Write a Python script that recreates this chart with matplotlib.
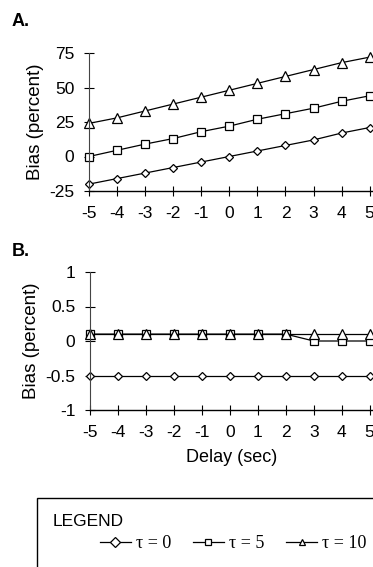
import numpy as np
import matplotlib
matplotlib.use("Agg")
import matplotlib.pyplot as plt
from matplotlib.patches import Rectangle

plt.rcParams['font.family'] = ['Liberation Sans', 'DejaVu Sans']

delay = [-5, -4, -3, -2, -1, 0, 1, 2, 3, 4, 5]
tau_labels = ["\u03c4 = 0", "\u03c4 = 5", "\u03c4 = 10"]
markers = ["D", "s", "^"]
msizes = [4.5, 6, 6.5]

# panel A: bias vs delay
bias_a_t0 = [-20, -16, -12, -8, -4, 0, 4, 8, 12, 17, 21]
bias_a_t5 = [0, 4.5, 9, 13, 18, 22, 27, 31, 35, 40, 44]
bias_a_t10 = [24, 28, 33, 38, 43, 48, 53, 58, 63, 68, 72]

# panel B: bias vs delay (small scale)
bias_b_t0 = [-0.5] * 11
bias_b_t5 = [0.1, 0.1, 0.1, 0.1, 0.1, 0.1, 0.1, 0.1, 0, 0, 0]
bias_b_t10 = [0.1] * 11

W, H = 373, 567
fig = plt.figure(figsize=(W / 100, H / 100), dpi=100)

def frac_axes(x0, y_top, y_bot):
    return fig.add_axes([x0 / W, 1 - y_bot / H, (W - x0) / W, (y_bot - y_top) / H])

def style(ax, ylim, yticks, yticklabels):
    ax.set_xlim(-5, 5.12)
    ax.set_ylim(*ylim)
    ax.set_xticks(delay)
    ax.set_xticklabels([str(d) for d in delay])
    ax.set_yticks(yticks)
    ax.set_yticklabels(yticklabels)
    for s in ["top", "right"]:
        ax.spines[s].set_visible(False)
    ax.spines["left"].set_linewidth(0.8)
    ax.spines["left"].set_color("#444444")
    ax.spines["bottom"].set_linewidth(1.0)
    ax.tick_params(direction="inout", length=7, width=0.8, pad=7, labelsize=12.5)
    ax.patch.set_alpha(0)

axA = frac_axes(89, 53, 191)
for ys, m, ms, lab in zip([bias_a_t0, bias_a_t5, bias_a_t10], markers, msizes, tau_labels):
    axA.plot(delay, ys, color="black", lw=0.9, marker=m, ms=ms,
             mfc="white", mec="black", mew=0.9, label=lab, clip_on=False)
style(axA, (-25, 75), [-25, 0, 25, 50, 75], ["-25", "0", "25", "50", "75"])
axA.set_ylabel("Bias (percent)", fontsize=13.5, labelpad=4)

axB = frac_axes(90, 272, 410)
handles = []
for ys, m, ms, lab in zip([bias_b_t0, bias_b_t5, bias_b_t10], markers, msizes, tau_labels):
    h, = axB.plot(delay, ys, color="black", lw=0.9, marker=m, ms=ms,
                  mfc="white", mec="black", mew=0.9, label=lab, clip_on=False)
    handles.append(h)
style(axB, (-1, 1), [-1, -0.5, 0, 0.5, 1], ["-1", "-0.5", "0", "0.5", "1"])
axB.set_ylabel("Bias (percent)", fontsize=13.5, labelpad=4)
axB.set_xlabel("Delay (sec)", fontsize=13, labelpad=7)

fig.text(12 / W, 1 - 22 / H, "A.", fontsize=13, fontweight="bold", va="center")
fig.text(12 / W, 1 - 252 / H, "B.", fontsize=13, fontweight="bold", va="center")

# legend box, open at the right and bottom
fig.patches.append(Rectangle((37 / W, -0.05), 1.1, 1 - 498 / H + 0.05,
                             transform=fig.transFigure, fill=False,
                             edgecolor="black", lw=1.0))
fig.text(53 / W, 1 - 522 / H, "LEGEND", fontsize=12.5, va="center")
leg = fig.legend(handles=handles, labels=tau_labels, loc="center left",
                 bbox_to_anchor=(100 / W, 1 - 544 / H), ncol=3, frameon=False,
                 borderpad=0, borderaxespad=0, handlelength=1.7,
                 handletextpad=0.3, columnspacing=1.2,
                 prop={"family": ["Liberation Serif", "DejaVu Serif"], "size": 13})
for lh in leg.legend_handles:
    lh.set_markersize(5)

fig.savefig("out.png", dpi=100)
